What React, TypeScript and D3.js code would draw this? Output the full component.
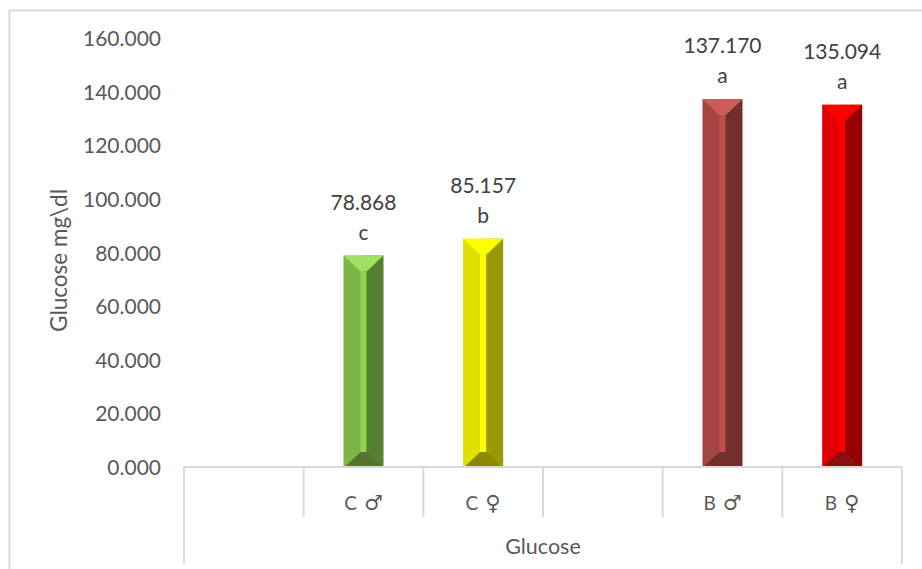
import React from 'react';
import * as d3 from 'd3';

const WIDTH = 922;
const HEIGHT = 569;

const categories = ['blank1', 'C ♂', 'C ♀', 'blank2', 'B ♂', 'B ♀'];
const values: (number | null)[] = [null, 78.868, 85.157, null, 137.17, 135.094];
const letters = ['', 'c', 'b', '', 'a', 'a'];
const yTicks = [0, 20, 40, 60, 80, 100, 120, 140, 160];
const groupLabel = 'Glucose';
const yTitle = 'Glucose mg\\dl';

// top, left, right, bottom, stripe
const palettes: Record<string, string[]> = {
  'C ♂': ['#a0e060', '#7cb546', '#55802f', '#55752f', '#92d050'],
  'C ♀': ['#ffff00', '#e0e000', '#999900', '#8c8800', '#ffff00'],
  'B ♂': ['#cd5c59', '#a54542', '#722f2d', '#70302d', '#c0504d'],
  'B ♀': ['#ff0000', '#e00000', '#990000', '#8b0f0f', '#ff0000'],
};

const margin = { left: 184, right: 20, axisTop: 38, axisBottom: 467 };
const BAR_W = 40;
const BEVEL = 16;
const STRIPE = 3;
const GREY = '#d9d9d9';
const FONT = 'Lato, "Open Sans", sans-serif';

const x = d3.scaleBand<string>().domain(categories).range([margin.left, WIDTH - margin.right]);
const y = d3.scaleLinear().domain([0, 160]).range([margin.axisBottom, margin.axisTop]);

const poly = (pts: number[][]) => d3.line()(pts as [number, number][]) + 'Z';

export default function App() {
  const band = x.bandwidth();
  const seps = [...categories.map(c => x(c) as number), WIDTH - margin.right];
  return (
    <svg width={WIDTH} height={HEIGHT} style={{ position: 'absolute', left: 0, top: 0, background: '#fff' }} fontFamily={FONT}>
      <path d={`M9.5,${HEIGHT}V10.5H${WIDTH}`} fill="none" stroke={GREY} strokeWidth={2} />

      {yTicks.map(t => (
        <text key={t} x={161} y={y(t) + 8} textAnchor="end" fontSize={21} fill="#595959">{t.toFixed(3)}</text>
      ))}
      <text transform={`translate(67,${(y(0) + y(160)) / 2 + 8}) rotate(-90)`} textAnchor="middle" fontSize={22.5} fill="#595959">{yTitle}</text>

      {categories.map((c, i) => {
        const v = values[i];
        if (v == null) return null;
        const x0 = (x(c) as number) + (band - BAR_W) / 2;
        const x1 = x0 + BAR_W;
        const top = y(v);
        const bot = y(0) + 1;
        const mid = (x0 + x1) / 2;
        const [cTop, cLeft, cRight, cBot, cStripe] = palettes[c];
        return (
          <g key={c}>
            <rect x={x0} y={top} width={BAR_W / 2} height={bot - top} fill={cLeft} />
            <rect x={mid} y={top} width={BAR_W / 2} height={bot - top} fill={cRight} />
            <rect x={mid - STRIPE} y={top + BEVEL} width={STRIPE * 2} height={bot - top - 2 * BEVEL} fill={cStripe} />
            <path d={poly([[x0, top], [x1, top], [mid + STRIPE, top + BEVEL], [mid - STRIPE, top + BEVEL]])} fill={cTop} />
            <path d={poly([[x0, bot], [x1, bot], [mid + STRIPE, bot - BEVEL], [mid - STRIPE, bot - BEVEL]])} fill={cBot} />
            <text x={mid} y={top - 46} textAnchor="middle" fontSize={21} fill="#404040">{v.toFixed(3)}</text>
            <text x={mid} y={top - 16} textAnchor="middle" fontSize={21} fill="#404040">{letters[i]}</text>
          </g>
        );
      })}

      <line x1={margin.left} x2={WIDTH - margin.right} y1={y(0)} y2={y(0)} stroke={GREY} strokeWidth={2} />
      {seps.map((sx, i) => {
        const outer = i === 0 || i === seps.length - 1;
        return <line key={i} x1={sx} x2={sx} y1={y(0)} y2={outer ? 564 : 517} stroke={GREY} strokeWidth={2} />;
      })}
      {categories.filter(c => !c.startsWith('blank')).map(c => {
        const [letter, symbol] = c.split(' ');
        return (
          <text key={c} x={(x(c) as number) + band / 2} y={510} textAnchor="middle" fontSize={19} fill="#595959">
            {letter}
            <tspan dx={7} fontFamily="DejaVu Sans" fontSize={21}>{symbol}</tspan>
          </text>
        );
      })}
      <text x={(margin.left + WIDTH - margin.right) / 2} y={554} textAnchor="middle" fontSize={21.5} fill="#595959">{groupLabel}</text>
    </svg>
  );
}
